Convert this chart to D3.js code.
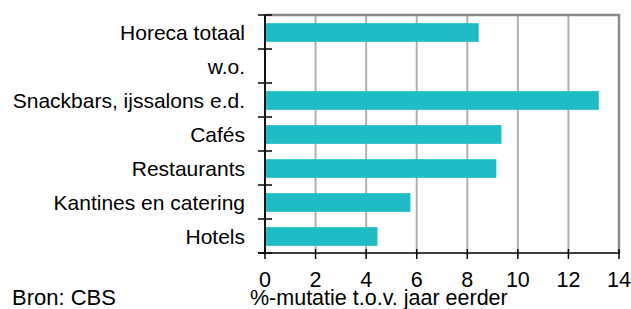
<!DOCTYPE html>
<html><head><meta charset="utf-8">
<script src="https://cdn.jsdelivr.net/npm/d3@7"></script>
<style>
html,body{margin:0;padding:0;background:#fff;}
svg{display:block;font-family:"Liberation Sans",Arial,sans-serif;}
</style></head>
<body>
<svg id="c" width="631" height="309"></svg>
<script>
const categories = ["Horeca totaal","w.o.","Snackbars, ijssalons e.d.","Cafés","Restaurants","Kantines en catering","Hotels"];
const values = [8.45, null, 13.2, 9.35, 9.15, 5.75, 4.45];
const xTicks = [0,2,4,6,8,10,12,14];
const xTitle = "%-mutatie t.o.v. jaar eerder";
const source = "Bron: CBS";

(function(){
const svg = d3.select("#c");
const pl = 265, pr = 619, pt = 15, pb = 253;
const x = d3.scaleLinear().domain([0,14]).range([pl,pr]);
const y = d3.scaleBand().domain(categories).range([pt,pb]);
const bw = y.bandwidth();

svg.append("g").selectAll("line").data(xTicks.filter(t=>t>0 && t<14)).join("line")
  .attr("x1",d=>x(d)).attr("x2",d=>x(d)).attr("y1",pt).attr("y2",pb)
  .attr("stroke","#b0b0b0").attr("stroke-width",2);
svg.append("path").attr("d",`M${pl},${pt}H${pr}V${pb}`)
  .attr("fill","none").attr("stroke","#8a8a8a").attr("stroke-width",2.5);

svg.append("g").selectAll("rect").data(categories.map((c,i)=>({c,v:values[i]})).filter(d=>d.v!=null)).join("rect")
  .attr("x",x(0)+1).attr("y",d=>y(d.c)+bw*0.24).attr("height",bw*0.55)
  .attr("width",d=>x(d.v)-x(0)-1).attr("fill","#1fbcc5");

const tickYs = d3.range(categories.length+1).map(i=>pt+i*bw);
svg.append("g").selectAll("line").data(tickYs).join("line")
  .attr("x1",258).attr("x2",272).attr("y1",d=>d).attr("y2",d=>d)
  .attr("stroke","#000").attr("stroke-width",1.5);
svg.append("line").attr("x1",pl).attr("x2",pl).attr("y1",pt).attr("y2",pb+1)
  .attr("stroke","#111").attr("stroke-width",2);

svg.append("line").attr("x1",258).attr("x2",pr+1).attr("y1",pb).attr("y2",pb)
  .attr("stroke","#000").attr("stroke-width",1.5);
svg.append("g").selectAll("line").data(xTicks).join("line")
  .attr("x1",d=>x(d)).attr("x2",d=>x(d)).attr("y1",pb-4).attr("y2",pb+6)
  .attr("stroke","#000").attr("stroke-width",1.5);

svg.append("g").selectAll("text").data(xTicks).join("text")
  .attr("x",d=>x(d)).attr("y",287).attr("text-anchor","middle")
  .attr("font-size",21.5).attr("fill","#000").text(d=>d);

svg.append("g").selectAll("text").data(categories).join("text")
  .attr("x",245).attr("y",d=>y(d)+bw/2+7.5).attr("text-anchor","end")
  .attr("font-size",21).attr("fill","#000").text(d=>d);

svg.append("text").attr("x",250).attr("y",305).attr("font-size",21.5).attr("fill","#000").text(xTitle);
svg.append("text").attr("x",12).attr("y",305).attr("font-size",22).attr("fill","#000").text(source);
})();
</script>
</body></html>
